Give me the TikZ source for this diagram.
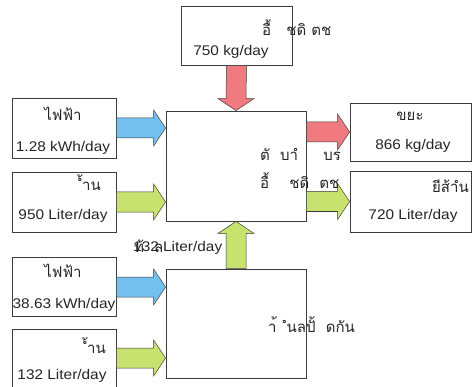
\documentclass[tikz,border=0pt]{standalone}
\usepackage{fontspec}
\setmainfont{Liberation Sans}[FakeStretch=1.1]
\newfontfamily\thai[Script=Thai]{Loma}
\usetikzlibrary{calc}
\definecolor{arrblue}{RGB}{115,192,238}
\definecolor{arrred}{RGB}{240,122,128}
\definecolor{arrgreen}{RGB}{200,226,112}
\definecolor{edgegray}{RGB}{60,60,60}
\newcommand\rightfat[3]{%
  \filldraw[fill=#3,fatline] ($(#1)+(0,-10)$) -- ($(#2)+(-12,-10)$) -- ($(#2)+(-12,-18)$) -- (#2)
    -- ($(#2)+(-12,18)$) -- ($(#2)+(-12,10)$) -- ($(#1)+(0,10)$) -- cycle;}
\newcommand\downfat[3]{%
  \filldraw[fill=#3,fatline] ($(#1)+(-10,0)$) -- ($(#2)+(-10,-12)$) -- ($(#2)+(-18,-12)$) -- (#2)
    -- ($(#2)+(18,-12)$) -- ($(#2)+(10,-12)$) -- ($(#1)+(10,0)$) -- cycle;}
\newcommand\upfat[3]{%
  \filldraw[fill=#3,fatline] ($(#1)+(-10,0)$) -- ($(#2)+(-10,12)$) -- ($(#2)+(-18,12)$) -- (#2)
    -- ($(#2)+(18,12)$) -- ($(#2)+(10,12)$) -- ($(#1)+(10,0)$) -- cycle;}
\begin{document}
\begin{tikzpicture}[x=1pt,y=-1pt,
  box/.style={draw=edgegray,line width=0.9pt,fill=white,inner sep=0pt},
  fatline/.style={draw=edgegray,line width=0.5pt},
  val/.style={inner sep=0pt,font=\fontsize{14}{16}\selectfont,text=black!85},
  th/.style={inner sep=0pt,font=\thai\fontsize{15}{17}\selectfont,text=black!85}]
\useasboundingbox[fill=white] (0,0) rectangle (473,387);
% boxes
\node[box,minimum width=111pt,minimum height=59pt] (T) at (236.5,35.5) {};
\node[box,minimum width=140pt,minimum height=110pt] (M) at (236,166) {};
\node[box,minimum width=140pt,minimum height=109pt] (B) at (236,323.5) {};
\node[box,minimum width=104pt,minimum height=60pt] (L1) at (64,128) {};
\node[box,minimum width=104pt,minimum height=60pt] (L2) at (64,202) {};
\node[box,minimum width=104pt,minimum height=59pt] (L3) at (64,287) {};
\node[box,minimum width=104pt,minimum height=58pt] (L4) at (64,358) {};
\node[box,minimum width=121pt,minimum height=58pt] (R1) at (410.5,132) {};
\node[box,minimum width=121pt,minimum height=61pt] (R2) at (410.5,201.5) {};
% arrows
\downfat{T.south}{M.north}{arrred}
\upfat{B.north}{M.south}{arrgreen}
\rightfat{L1.east}{M.west |- L1.east}{arrblue}
\rightfat{L2.east}{M.west |- L2.east}{arrgreen}
\rightfat{L3.east}{B.west |- L3.east}{arrblue}
\rightfat{L4.east}{B.west |- L4.east}{arrgreen}
\rightfat{M.east |- R1.west}{R1.west}{arrred}
\rightfat{M.east |- R2.west}{R2.west}{arrgreen}
% texts
\node[th,anchor=west] (tT) at (262,28) {อื้\ \ \ ชดิ\ ตช};
\node[val] (vT) at (231,52) {750 kg/day};
\node[th] (tL1) at (63,114) {ไฟฟ้า};
\node[val] (vL1) at (63,148) {1.28 kWh/day};
\node[th,anchor=east] (tL2) at (101,183) {ํ้าน};
\node[val] (vL2) at (63,216) {950 Liter/day};
\node[th] (tL3) at (63,271) {ไฟฟ้า};
\node[val] (vL3) at (64,305) {38.63 kWh/day};
\node[th,anchor=east] (tL4) at (106,346) {ํ้าน};
\node[val] (vL4) at (62,376) {132 Liter/day};
\node[th] (tR1) at (410,116) {ขยะ};
\node[val] (vR1) at (413,146) {866 kg/day};
\node[th,anchor=east] (tR2) at (469,186) {ยีส้าํน};
\node[val] (vR2) at (413,216) {720 Liter/day};
\node[th,anchor=west] (tM1) at (260,154) {ตั\ \ บาํ\ \ \ \ \ บร};
\node[th,anchor=west] (tM2) at (260,181) {อื้\ \ \ \ ชดิ\ \ ตช};
\node[th,anchor=west] (tB) at (268,325) {า้\ \ ํนลปั้\ \ ดกัน};
\node[val,anchor=west] (vMid) at (133,248) {132 Liter/day};
\node[th,anchor=west] (tMid) at (134,246) {ท้\ \ ล};
\end{tikzpicture}
\end{document}
